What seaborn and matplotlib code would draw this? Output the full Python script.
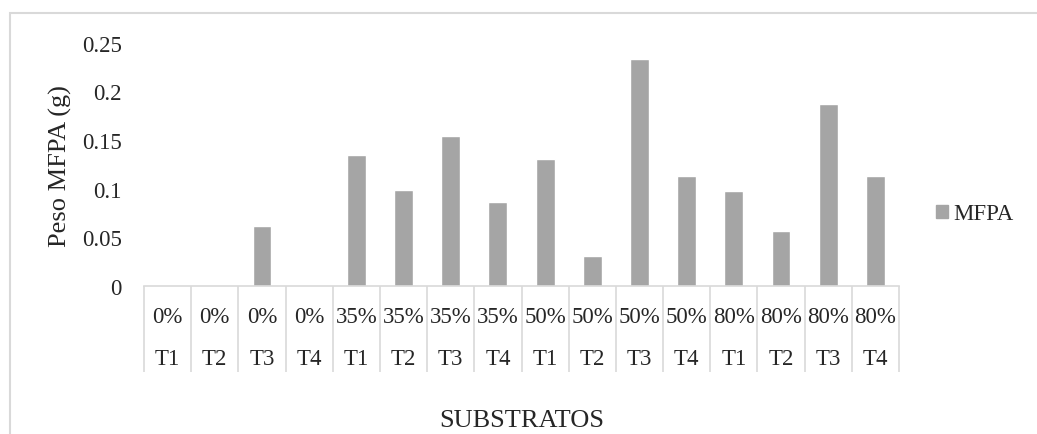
import numpy as np
import pandas as pd
import seaborn as sns
import matplotlib
matplotlib.use("Agg")
import matplotlib.pyplot as plt
import matplotlib.patches as mpatches
from matplotlib.ticker import FuncFormatter

# data
porcentajes = ["0%", "0%", "0%", "0%", "35%", "35%", "35%", "35%",
               "50%", "50%", "50%", "50%", "80%", "80%", "80%", "80%"]
tratamientos = ["T1", "T2", "T3", "T4"] * 4
peso_mfpa = [0, 0, 0.062, 0, 0.134, 0.099, 0.154, 0.086,
             0.130, 0.031, 0.233, 0.113, 0.098, 0.056, 0.187, 0.113]

sns.set_style("white")
plt.rcParams['font.family'] = ['Liberation Serif', 'DejaVu Serif']

bar_color = "#A5A5A5"
line_color = "#D9D9D9"

df = pd.DataFrame({
    "sustrato": [p + " " + t for p, t in zip(porcentajes, tratamientos)],
    "peso": peso_mfpa,
})

W, H = 1037, 435
fig = plt.figure(figsize=(W / 100, H / 100), dpi=100)
# axes placed to match the reference plot area
ax = fig.add_axes([144 / W, 1 - 287 / H, (899 - 144) / W, (287 - 43.5) / H])

sns.barplot(data=df, x="sustrato", y="peso", color=bar_color, saturation=1,
            width=0.4, ax=ax)

ax.set_xlim(-0.5, len(df) - 0.5)
ax.set_ylim(0, 0.25)
ax.set_yticks([0, 0.05, 0.1, 0.15, 0.2, 0.25])
ax.yaxis.set_major_formatter(FuncFormatter(lambda v, p: "{:g}".format(round(v, 2))))
ax.tick_params(axis='y', length=0, pad=16, labelsize=16.5)
ax.set_xticks([])
ax.set_xlabel("")
ax.set_ylabel("")

for s in ["top", "right", "left"]:
    ax.spines[s].set_visible(False)
ax.spines["bottom"].set_color(line_color)
ax.spines["bottom"].set_linewidth(1.2)

# two-level category axis
tr = ax.get_xaxis_transform()
axh = 287 - 43.5
for i, (p, t) in enumerate(zip(porcentajes, tratamientos)):
    ax.text(i, (287 - 318) / axh, p, transform=tr, ha="center", va="center",
            fontsize=16.5, clip_on=False)
    ax.text(i, (287 - 360) / axh, t, transform=tr, ha="center", va="center",
            fontsize=16.5, clip_on=False)
ax.vlines(np.arange(len(df) + 1) - 0.5, 0, (287 - 373) / axh, transform=tr,
          color=line_color, linewidth=1.2, clip_on=False)

ax.text(0.5, (287 - 421) / axh, "SUBSTRATOS", transform=ax.transAxes,
        ha="center", va="center", fontsize=19)
fig.text(60 / W, 1 - 166 / H, "Peso MFPA (g)", rotation=90, ha="center",
         va="center", fontsize=19)

handle = mpatches.Patch(color=bar_color, label="MFPA")
fig.legend(handles=[handle], loc="center left",
           bbox_to_anchor=(936 / W, 1 - 215 / H), frameon=False,
           fontsize=16.5, handlelength=0.52, handleheight=0.52,
           handletextpad=0.25, borderpad=0, borderaxespad=0)

# chart area border like the spreadsheet export
fig.add_artist(mpatches.Rectangle((10 / W, -0.2), 1.2, 1.2 - 14 / H,
                                  transform=fig.transFigure, fill=False,
                                  edgecolor=line_color, linewidth=1.5))

fig.savefig("out.png", dpi=100)
